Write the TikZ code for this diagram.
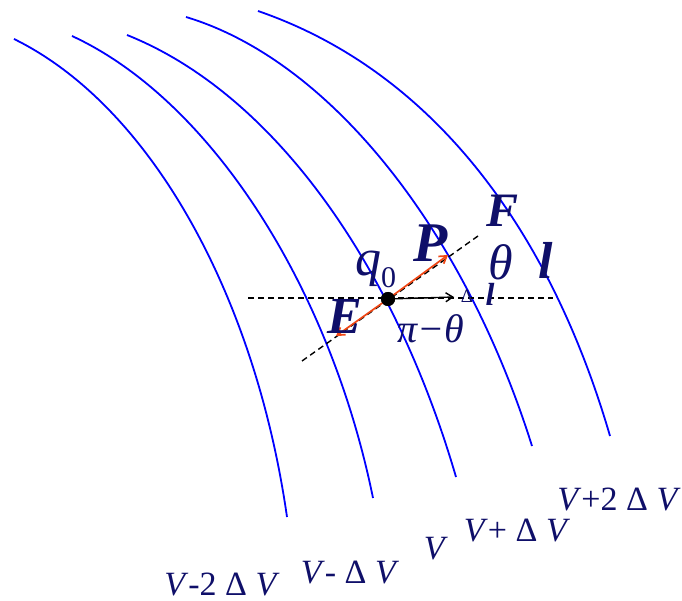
\documentclass[tikz,border=0pt]{standalone}
\usepackage{fontspec}
\setmainfont{Liberation Serif}
\usetikzlibrary{arrows.meta}
\definecolor{navy}{RGB}{15,15,105}
\definecolor{eqblue}{RGB}{0,0,255}
\definecolor{vecorange}{RGB}{240,70,20}
\begin{document}
\begin{tikzpicture}[x=1pt,y=-1pt,
  equi/.style={draw=eqblue, line width=1.8pt},
  guide/.style={draw=black, dash pattern=on 6pt off 4pt, line width=1.4pt},
  vecarrow/.style={draw=vecorange, line width=1.7pt, -{Straight Barb[length=7pt,width=9pt]}},
  disparrow/.style={draw=black, line width=1.4pt, -{Straight Barb[length=7pt,width=9pt]}},
  lbl/.style={text=navy, inner sep=0pt}]
\useasboundingbox (0,0) rectangle (682,601);
% equipotential curves
\draw[equi] (14,39) .. controls (150.3,105.8) and (255.1,294.7) .. (287,517);
\draw[equi] (72,36) .. controls (208.9,99.2) and (329.3,284) .. (373,498);
\draw[equi] (127,35) .. controls (274.3,93.9) and (394.5,266.1) .. (456,477);
\draw[equi] (186,17) .. controls (330.6,60.5) and (464.3,230.7) .. (532,446);
\draw[equi] (258,11) .. controls (435.5,72.2) and (550.9,233.4) .. (610,436);
% charge and guides
\node[circle, fill=black, minimum size=14pt, inner sep=0pt] (q) at (388,299) {};
\coordinate (hl) at (248,298);
\coordinate (hr) at (553,298);
\coordinate (sl) at (302,361);
\coordinate (sr) at (478,236);
\draw[guide] (hl) -- (hr);
\draw[guide] (sl) -- (sr);
\coordinate (Ptip) at (448,255);
\coordinate (Etip) at (336,336);
\coordinate (dltip) at (454,297);
\draw[vecarrow] (q.center) -- (Ptip);
\draw[vecarrow] (q.center) -- (Etip);
\draw[disparrow] (q.center) -- (dltip);
\node[circle, fill=black, minimum size=14pt, inner sep=0pt] at (q.center) {};
% labels
\node[lbl, font=\fontsize{48}{50}\selectfont\bfseries\itshape] (F) at (503,211) {F};
\node[lbl, font=\fontsize{56}{58}\selectfont\bfseries\itshape] (P) at (431,243) {P};
\node[lbl, font=\fontsize{50}{52}\selectfont\itshape] (th) at (501,262) {θ};
\node[lbl, font=\fontsize{52}{54}\selectfont\bfseries\itshape] (l) at (546,260) {l};
\node[lbl, anchor=base west, font=\fontsize{52}{54}\selectfont] (q0) at (355,276) {\textit{q}\raisebox{-12pt}{\fontsize{30}{30}\selectfont 0}};
\node[lbl, font=\fontsize{52}{54}\selectfont\bfseries\itshape] (E) at (345,316) {E};
\node[lbl, font=\fontsize{40}{42}\selectfont\itshape] (pt) at (431,329) {π−θ};
\node[lbl, font=\fontsize{19}{20}\selectfont] (dD) at (467,296) {Δ};
\node[lbl, font=\fontsize{32}{34}\selectfont\bfseries\itshape] (dl) at (490,294) {l};
% potential labels
\node[lbl, font=\fontsize{34}{36}\selectfont] (v1) at (222,584) {\textit{V}-2 Δ \textit{V}};
\node[lbl, font=\fontsize{34}{36}\selectfont] (v2) at (350,573) {\textit{V}- Δ \textit{V}};
\node[lbl, font=\fontsize{34}{36}\selectfont] (v3) at (436,549) {\textit{V}};
\node[lbl, font=\fontsize{34}{36}\selectfont] (v4) at (517,531) {\textit{V}+ Δ \textit{V}};
\node[lbl, font=\fontsize{34}{36}\selectfont] (v5) at (619,499) {\textit{V}+2 Δ \textit{V}};
\end{tikzpicture}
\end{document}
